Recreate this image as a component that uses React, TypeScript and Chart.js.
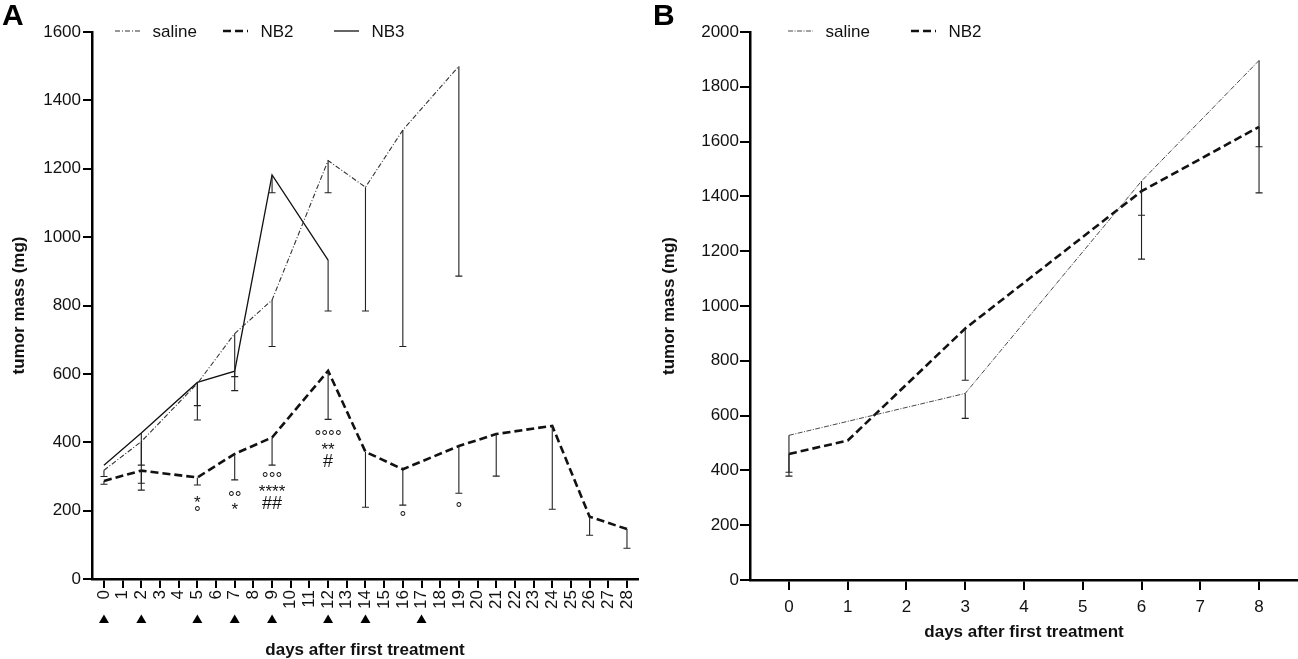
import { useEffect, useRef } from "react";
import { Chart, registerables } from "chart.js";

Chart.register(...registerables);

const FONT = "'Liberation Sans', Arial, Helvetica, sans-serif";

// ---- panel A ----
const tickDaysA = [0, 1, 2, 3, 4, 5, 6, 7, 8, 9, 10, 11, 12, 13, 14, 15, 16, 17, 18, 19, 20, 21, 22, 23, 24, 25, 26, 27, 28];
const treatmentDaysA = [0, 2, 5, 7, 9, 12, 14, 17];

const salineDaysA = [0, 2, 5, 7, 9, 12, 14, 16, 19];
const salineMeanA = [318, 402, 572, 718, 816, 1224, 1146, 1313, 1500];
const salineLowA = [300, 280, 465, 551, 680, 1130, 784, 680, 886];

const nb2DaysA = [0, 2, 5, 7, 9, 12, 14, 16, 19, 21, 24, 26, 28];
const nb2MeanA = [287, 317, 297, 366, 414, 609, 372, 321, 389, 424, 448, 182, 146];
const nb2LowA = [277, 260, 275, 290, 333, 467, 210, 216, 251, 301, 204, 128, 90];

const nb3DaysA = [0, 2, 5, 7, 9, 12];
const nb3MeanA = [333, 427, 575, 608, 1182, 933];
const nb3LowA = [null, 333, 507, 592, 1130, 784];

// significance marks under NB2 (day, level in mg, symbol)
const markDays = [5, 5, 7, 7, 9, 9, 9, 12, 12, 12, 16, 19];
const markLevels = [236, 205, 251, 216, 305, 270, 224, 428, 392, 348, 191, 217];
const markTexts = ["*", "°", "°°", "*", "°°°", "****", "##", "°°°°", "**", "#", "°", "°"];

// ---- panel B ----
const tickDaysB = [0, 1, 2, 3, 4, 5, 6, 7, 8];

const salineDaysB = [0, 3, 6, 8];
const salineMeanB = [528, 681, 1456, 1896];
const salineLowB = [393, 590, 1331, 1581];

const nb2DaysB = [0, 1, 3, 6, 8];
const nb2MeanB = [460, 509, 918, 1419, 1654];
const nb2LowB = [379, null, 729, 1171, 1413];

const toPoints = (days: number[], vals: number[]) => days.map((d, i) => ({ x: d, y: vals[i] }));

const errorBars = {
    id: "errorBars",
    afterDatasetsDraw(chart: any) {
        const { ctx, scales } = chart;
        chart.data.datasets.forEach((ds: any) => {
            if (!ds.errLow) return;
            ctx.save();
            ctx.strokeStyle = "#222";
            ctx.lineWidth = 1.1;
            ds.data.forEach((p: any, i: number) => {
                const low = ds.errLow[i];
                if (low == null) return;
                const x = scales.x.getPixelForValue(p.x);
                const y1 = scales.y.getPixelForValue(p.y);
                const y2 = scales.y.getPixelForValue(low);
                ctx.beginPath();
                ctx.moveTo(x, y1);
                ctx.lineTo(x, y2);
                ctx.moveTo(x - 3.5, y2);
                ctx.lineTo(x + 3.5, y2);
                ctx.stroke();
            });
            ctx.restore();
        });
    },
};

const lineLegend = {
    id: "lineLegend",
    afterDraw(chart: any, _args: any, opts: any) {
        const { ctx, chartArea } = chart;
        const y = chartArea.top - 1;
        (opts.items || []).forEach((it: any) => {
            const ds = chart.data.datasets[it.index];
            const x0 = chartArea.left + it.offset;
            ctx.save();
            ctx.strokeStyle = ds.borderColor;
            ctx.lineWidth = ds.borderWidth;
            ctx.setLineDash(ds.borderDash || []);
            ctx.beginPath();
            ctx.moveTo(x0, y);
            ctx.lineTo(x0 + 25, y);
            ctx.stroke();
            ctx.setLineDash([]);
            ctx.fillStyle = "#111";
            ctx.font = `17px ${FONT}`;
            ctx.textBaseline = "middle";
            ctx.fillText(ds.label, x0 + 37.5, y + 1);
            ctx.restore();
        });
    },
};

const sigMarks = {
    id: "sigMarks",
    afterDraw(chart: any) {
        const { ctx, scales } = chart;
        ctx.save();
        ctx.fillStyle = "#111";
        ctx.textAlign = "center";
        ctx.textBaseline = "alphabetic";
        markTexts.forEach((t, i) => {
            const x = scales.x.getPixelForValue(markDays[i]);
            const y = scales.y.getPixelForValue(markLevels[i]);
            let size = 17;
            let rise = 0.58;
            if (t.startsWith("#")) {
                size = 18;
                rise = 0.36;
            } else if (t.startsWith("°")) {
                size = 17;
                rise = 0.56;
            }
            ctx.font = `${size}px ${FONT}`;
            ctx.fillText(t, x, y + rise * size);
        });
        ctx.restore();
    },
};

const treatmentMarks = {
    id: "treatmentMarks",
    afterDraw(chart: any) {
        const { ctx, scales, chartArea } = chart;
        const yc = chartArea.bottom + 40;
        ctx.save();
        ctx.fillStyle = "#000";
        treatmentDaysA.forEach((d) => {
            const x = scales.x.getPixelForValue(d);
            ctx.beginPath();
            ctx.moveTo(x, yc - 4.5);
            ctx.lineTo(x + 5, yc + 4);
            ctx.lineTo(x - 5, yc + 4);
            ctx.closePath();
            ctx.fill();
        });
        ctx.restore();
    },
};

const axisStyle = {
    grid: { drawOnChartArea: false, drawTicks: true, color: "#000", lineWidth: 2 },
    border: { color: "#000", width: 2.5 },
};

const titleFont = { family: FONT, size: 17, weight: "bold" as const, lineHeight: 1 };
const plain = (v: any) => String(v);

function buildA() {
    return {
        type: "line",
        data: {
            datasets: [
                {
                    label: "saline",
                    data: toPoints(salineDaysA, salineMeanA),
                    errLow: salineLowA,
                    borderColor: "#333",
                    borderWidth: 1.1,
                    borderDash: [5, 2, 1, 2],
                },
                {
                    label: "NB2",
                    data: toPoints(nb2DaysA, nb2MeanA),
                    errLow: nb2LowA,
                    borderColor: "#111",
                    borderWidth: 2.6,
                    borderDash: [8, 4],
                },
                {
                    label: "NB3",
                    data: toPoints(nb3DaysA, nb3MeanA),
                    errLow: nb3LowA,
                    borderColor: "#111",
                    borderWidth: 1.3,
                    borderDash: [],
                },
            ],
        },
        options: {
            animation: false,
            responsive: false,
            layout: { padding: { top: 32, right: 12, left: 0, bottom: 0 } },
            elements: { point: { radius: 0 }, line: { tension: 0 } },
            plugins: {
                legend: { display: false },
                tooltip: { enabled: false },
                lineLegend: {
                    items: [
                        { index: 0, offset: 23 },
                        { index: 1, offset: 131 },
                        { index: 2, offset: 242 },
                    ],
                },
            },
            scales: {
                x: {
                    type: "linear",
                    min: -0.64,
                    max: 28.59,
                    afterBuildTicks: (s: any) => {
                        s.ticks = tickDaysA.map((value) => ({ value }));
                    },
                    afterFit: (s: any) => {
                        s.height = 80;
                    },
                    ticks: {
                        autoSkip: false,
                        minRotation: 90,
                        maxRotation: 90,
                        padding: 2,
                        color: "#111",
                        font: { family: FONT, size: 17 },
                        callback: plain,
                    },
                    grid: { ...axisStyle.grid, tickLength: 9 },
                    border: axisStyle.border,
                    title: {
                        display: true,
                        text: "days after first treatment",
                        color: "#111",
                        font: titleFont,
                        padding: { top: 0, bottom: 0 },
                    },
                },
                y: {
                    min: 0,
                    max: 1600,
                    afterFit: (s: any) => {
                        s.width = 92;
                    },
                    ticks: {
                        stepSize: 200,
                        padding: 2,
                        color: "#111",
                        font: { family: FONT, size: 17 },
                        callback: plain,
                    },
                    grid: { ...axisStyle.grid, tickLength: 9 },
                    border: axisStyle.border,
                    title: {
                        display: true,
                        text: "tumor mass (mg)",
                        color: "#111",
                        font: titleFont,
                        padding: { top: 11, bottom: 0 },
                    },
                },
            },
        },
        plugins: [errorBars, lineLegend, sigMarks, treatmentMarks],
    };
}

function buildB() {
    return {
        type: "line",
        data: {
            datasets: [
                {
                    label: "saline",
                    data: toPoints(salineDaysB, salineMeanB),
                    errLow: salineLowB,
                    borderColor: "#333",
                    borderWidth: 0.9,
                    borderDash: [5, 1.5, 1, 1.5],
                },
                {
                    label: "NB2",
                    data: toPoints(nb2DaysB, nb2MeanB),
                    errLow: nb2LowB,
                    borderColor: "#111",
                    borderWidth: 2.6,
                    borderDash: [8, 4],
                },
            ],
        },
        options: {
            animation: false,
            responsive: false,
            layout: { padding: { top: 32, right: 0, left: 0, bottom: 0 } },
            elements: { point: { radius: 0 }, line: { tension: 0 } },
            plugins: {
                legend: { display: false },
                tooltip: { enabled: false },
                lineLegend: {
                    items: [
                        { index: 0, offset: 38 },
                        { index: 1, offset: 161 },
                    ],
                },
            },
            scales: {
                x: {
                    type: "linear",
                    min: -0.663,
                    max: 8.663,
                    afterBuildTicks: (s: any) => {
                        s.ticks = tickDaysB.map((value) => ({ value }));
                    },
                    afterFit: (s: any) => {
                        s.height = 79;
                    },
                    ticks: {
                        autoSkip: false,
                        maxRotation: 0,
                        padding: 7,
                        color: "#111",
                        font: { family: FONT, size: 17 },
                        callback: plain,
                    },
                    grid: { ...axisStyle.grid, tickLength: 10 },
                    border: axisStyle.border,
                    title: {
                        display: true,
                        text: "days after first treatment",
                        color: "#111",
                        font: titleFont,
                        padding: { top: 0, bottom: 18 },
                    },
                },
                y: {
                    min: 0,
                    max: 2000,
                    afterFit: (s: any) => {
                        s.width = 100;
                    },
                    ticks: {
                        stepSize: 200,
                        padding: 1,
                        color: "#111",
                        font: { family: FONT, size: 17 },
                        callback: plain,
                    },
                    grid: { ...axisStyle.grid, tickLength: 10 },
                    border: axisStyle.border,
                    title: {
                        display: true,
                        text: "tumor mass (mg)",
                        color: "#111",
                        font: titleFont,
                        padding: { top: 11, bottom: 0 },
                    },
                },
            },
        },
        plugins: [errorBars, lineLegend],
    };
}

function ChartPanel({ build, width, height }: { build: () => any; width: number; height: number }) {
    const ref = useRef<HTMLCanvasElement>(null);

    useEffect(() => {
        if (!ref.current) return;
        const chart = new Chart(ref.current, build());
        return () => chart.destroy();
    }, [build]);

    return <canvas ref={ref} width={width} height={height} style={{ display: "block", width, height }} />;
}

const letterStyle = {
    position: "absolute" as const,
    top: 0,
    fontFamily: FONT,
    fontWeight: "bold" as const,
    fontSize: 30,
    lineHeight: 1,
    color: "#000",
};

export default function App() {
    return (
        <div
            style={{
                position: "absolute",
                left: 0,
                top: 0,
                width: 1298,
                height: 659,
                background: "#fff",
                overflow: "hidden",
            }}
        >
            <div style={{ position: "absolute", left: 0, top: 0 }}>
                <ChartPanel build={buildA} width={650} height={659} />
            </div>
            <div style={{ position: "absolute", left: 650, top: 0 }}>
                <ChartPanel build={buildB} width={648} height={659} />
            </div>
            <div style={{ ...letterStyle, left: 2 }}>A</div>
            <div style={{ ...letterStyle, left: 653 }}>B</div>
        </div>
    );
}
